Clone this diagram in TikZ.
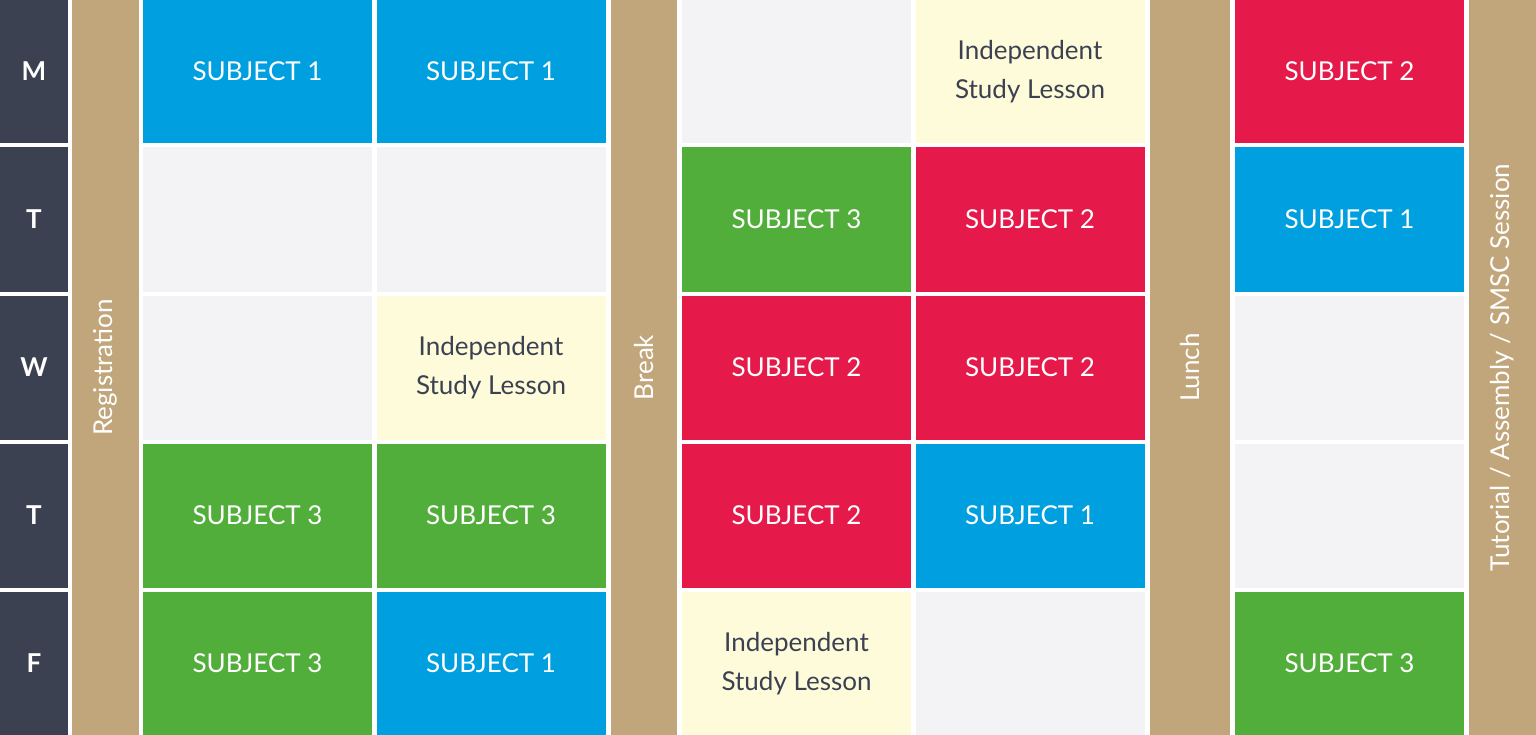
\documentclass[tikz,border=0pt]{standalone}
\usepackage{fontspec}
\setmainfont{Lato}
\usetikzlibrary{positioning}
\definecolor{subjblue}{HTML}{009FE0}
\definecolor{subjred}{HTML}{E5194A}
\definecolor{subjgreen}{HTML}{52AE3A}
\definecolor{emptygrey}{HTML}{F3F3F5}
\definecolor{studycream}{HTML}{FEFBDA}
\definecolor{bartan}{HTML}{C2A67B}
\definecolor{daydark}{HTML}{3C4151}
\expandafter\def\csname txtS1\endcsname{SUBJECT 1}
\expandafter\def\csname txtS2\endcsname{SUBJECT 2}
\expandafter\def\csname txtS3\endcsname{SUBJECT 3}
\expandafter\def\csname txtE\endcsname{}
\expandafter\def\csname txtI\endcsname{Independent\\Study Lesson}
\tikzset{
  cell/.style = {rectangle, minimum width = 229pt, minimum height = 144pt, inner sep = 0pt, align = center,
                 font = \fontsize{26}{39}\selectfont},
  S1/.style = {cell, fill = subjblue, text = white},
  S2/.style = {cell, fill = subjred, text = white},
  S3/.style = {cell, fill = subjgreen, text = white},
  E/.style = {cell, fill = emptygrey},
  I/.style = {cell, fill = studycream, text = daydark},
  day/.style = {rectangle, fill = daydark, text = white, minimum width = 68pt, minimum height = 144pt,
                inner sep = 0pt, font = \fontsize{26}{30}\selectfont\bfseries},
  bar/.style = {rectangle, fill = bartan, text = white, minimum height = 735pt, inner sep = 0pt,
                font = \fontsize{26}{30}\selectfont}
}
\begin{document}
\begin{tikzpicture}[x = 1pt, y = -1pt]
  \fill[white] (0,0) rectangle (1536,735);
  \useasboundingbox (0,0) rectangle (1536,735);

  % bars between the columns
  \node[bar, minimum width = 67pt] (reg) at (105.5,367.5) {\rotatebox{90}{Registration}};
  \node[bar, minimum width = 66pt] (brk) at (644,367.5) {\rotatebox{90}{Break}};
  \node[bar, minimum width = 80pt] (lunch) at (1190,367.5) {\rotatebox{90}{Lunch}};
  \node[bar, minimum width = 67pt] (tut) at (1502.5,367.5) {\rotatebox{90}{Tutorial / Assembly / SMSC Session}};

  % days and lessons
  \foreach \r/\d/\a/\b/\c/\e/\f in {
      0/M/S1/S1/E/I/S2,
      1/T/E/E/S3/S2/S1,
      2/W/E/I/S2/S2/E,
      3/T/S3/S3/S2/S1/E,
      4/F/S3/S1/I/E/S3}{
    \pgfmathsetmacro{\yc}{71.5 + 148*\r}
    \node[day] (day\r) at (34,\yc) {\d};
    \foreach \col/\s/\xc in {1/\a/257.5, 2/\b/491, 3/\c/796.5, 4/\e/1030, 5/\f/1349.5}{
      \node[\s] (c\r\col) at (\xc,\yc) {\csname txt\s\endcsname};
    }
  }
\end{tikzpicture}
\end{document}
